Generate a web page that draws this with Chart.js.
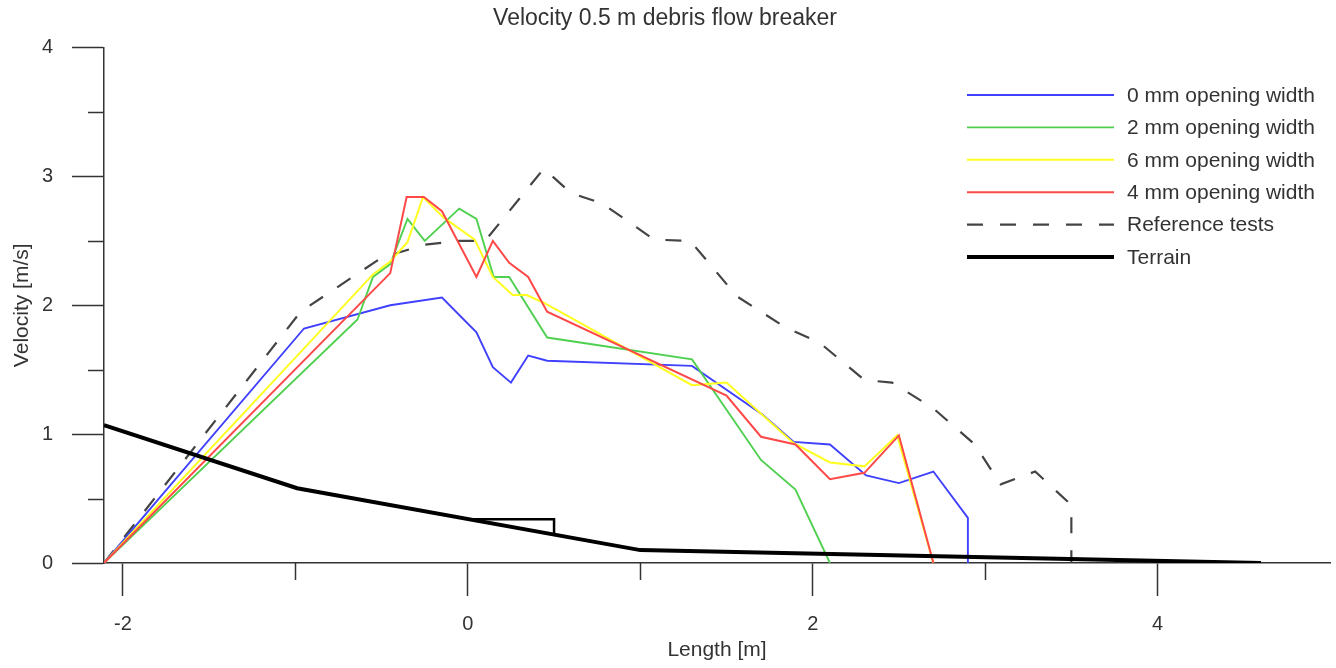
<!DOCTYPE html>
<html>
<head>
<meta charset="utf-8">
<title>Velocity 0.5 m debris flow breaker</title>
<script src="https://cdn.jsdelivr.net/npm/chart.js@4.4.1/dist/chart.umd.min.js"></script>
<style>
    html, body { margin: 0; padding: 0; background: #fff; }
    #wrap { width: 1336px; height: 668px; }
</style>
</head>
<body>
<div id="wrap"><canvas id="chart" width="1336" height="668"></canvas></div>
<script>
const FONT = '"Liberation Sans", Arial, sans-serif';
const TEXT_COLOR = '#333';
const AXIS_COLOR = '#333';

// axis ticks
const xTicks = [-2, 0, 2, 4];
const xMinorTicks = [-1, 1, 3];
const yTicks = [0, 1, 2, 3, 4];
const yMinorTicks = [0.5, 1.5, 2.5, 3.5];

// 0 mm opening width
const x0mm = [-2.11, -0.95, -0.45, -0.15, 0.05, 0.145, 0.25, 0.35, 0.46, 1.3, 1.71, 1.89, 2.1, 2.31, 2.5, 2.7, 2.9, 2.9];
const y0mm = [0, 1.82, 2.0, 2.06, 1.79, 1.52, 1.40, 1.61, 1.57, 1.53, 1.15, 0.94, 0.92, 0.68, 0.62, 0.71, 0.35, 0];

// 2 mm opening width
const x2mm = [-2.11, -0.64, -0.55, -0.45, -0.35, -0.25, -0.05, 0.05, 0.15, 0.24, 0.46, 1.3, 1.7, 1.9, 2.1];
const y2mm = [0, 1.89, 2.22, 2.32, 2.67, 2.5, 2.75, 2.67, 2.22, 2.22, 1.75, 1.58, 0.8, 0.57, 0];

// 6 mm opening width
const x6mm = [-2.11, -0.55, -0.45, -0.35, -0.26, -0.14, 0.04, 0.145, 0.26, 0.34, 0.44, 1.3, 1.5, 1.89, 2.1, 2.3, 2.49, 2.7];
const y6mm = [0, 2.24, 2.34, 2.49, 2.84, 2.68, 2.51, 2.22, 2.08, 2.08, 2.02, 1.38, 1.40, 0.93, 0.78, 0.75, 0.99, 0];

// 4 mm opening width
const x4mm = [-2.11, -0.45, -0.355, -0.255, -0.15, 0.05, 0.145, 0.24, 0.35, 0.46, 1.5, 1.7, 1.9, 2.1, 2.3, 2.5, 2.7];
const y4mm = [0, 2.25, 2.84, 2.84, 2.73, 2.22, 2.5, 2.33, 2.22, 1.95, 1.30, 0.98, 0.92, 0.65, 0.70, 0.99, 0];

// Reference tests
const xRef = [-2.11, -0.97, -0.5, -0.25, -0.05, 0.1, 0.44, 0.6, 0.78, 1.08, 1.29, 1.56, 1.84, 2.04, 2.3, 2.46, 2.7, 2.94, 3.09, 3.29, 3.5, 3.5];
const yRef = [0, 1.95, 2.37, 2.47, 2.5, 2.5, 3.06, 2.87, 2.79, 2.51, 2.5, 2.07, 1.83, 1.71, 1.42, 1.4, 1.2, 0.92, 0.61, 0.71, 0.45, 0];

// Terrain and the breaker outline sitting on it
const xTerrain = [-2.11, -0.99, 1.0, 4.6];
const yTerrain = [1.07, 0.58, 0.1, 0];
const xBreaker = [0.03, 0.5, 0.5];
const yBreaker = [0.34, 0.34, 0.22];

function pts(xs, ys) {
    return xs.map((v, i) => ({ x: v, y: ys[i] }));
}

function series(label, xs, ys, color, width, order, dash) {
    return {
        label: label,
        data: pts(xs, ys),
        borderColor: color,
        backgroundColor: color,
        borderWidth: width,
        borderDash: dash || [],
        pointRadius: 0,
        tension: 0,
        fill: false,
        order: order
    };
}

const datasets = [
    series('0 mm opening width', x0mm, y0mm, '#4040ff', 1.9, 5),
    series('2 mm opening width', x2mm, y2mm, '#50d050', 1.9, 4),
    series('6 mm opening width', x6mm, y6mm, '#ffff20', 2, 3),
    series('4 mm opening width', x4mm, y4mm, '#ff4848', 2, 2),
    series('Reference tests', xRef, yRef, '#444', 2.2, 6, [16, 17]),
    series('Terrain', xTerrain, yTerrain, '#000', 4, 0),
    series('', xBreaker, yBreaker, '#000', 2.5, 1)
];

// minor ticks and the in-plot legend
const decor = {
    id: 'decor',
    afterDraw(chart) {
        const { ctx, scales: { x, y } } = chart;
        ctx.save();
        ctx.strokeStyle = AXIS_COLOR;
        ctx.lineWidth = 1.5;
        ctx.beginPath();
        xMinorTicks.forEach(v => {
            const px = Math.round(x.getPixelForValue(v)) + 0.5;
            ctx.moveTo(px, y.bottom);
            ctx.lineTo(px, y.bottom + 17);
        });
        yMinorTicks.forEach(v => {
            const py = Math.round(y.getPixelForValue(v)) + 0.5;
            ctx.moveTo(x.left, py);
            ctx.lineTo(x.left - 16, py);
        });
        ctx.stroke();

        const items = chart.data.datasets.filter(d => d.label);
        ctx.font = '21px ' + FONT;
        ctx.textBaseline = 'middle';
        ctx.fillStyle = TEXT_COLOR;
        items.forEach((d, i) => {
            const ly = 95 + i * 32.4;
            ctx.beginPath();
            ctx.strokeStyle = d.borderColor;
            ctx.lineWidth = d.borderWidth;
            ctx.setLineDash(d.borderDash);
            ctx.moveTo(967, ly);
            ctx.lineTo(1114, ly);
            ctx.stroke();
            ctx.setLineDash([]);
            ctx.fillText(d.label, 1127, ly + 1);
        });
        ctx.restore();
    }
};

new Chart(document.getElementById('chart'), {
    type: 'line',
    data: { datasets: datasets },
    plugins: [decor],
    options: {
        responsive: false,
        animation: false,
        devicePixelRatio: 1,
        layout: { padding: { left: 0, right: 6, top: 0, bottom: 0 } },
        plugins: {
            legend: { display: false },
            tooltip: { enabled: false },
            title: {
                display: true,
                text: 'Velocity 0.5 m debris flow breaker',
                color: TEXT_COLOR,
                font: { family: FONT, size: 23, weight: 'normal' },
                padding: { top: 5, bottom: 15 }
            }
        },
        scales: {
            x: {
                type: 'linear',
                min: -2.11,
                max: 5.0,
                afterBuildTicks: s => { s.ticks = xTicks.map(v => ({ value: v })); },
                afterFit: s => { s.height = 105; },
                grid: { drawOnChartArea: false, drawTicks: true, tickLength: 33, tickColor: AXIS_COLOR, tickWidth: 1.5 },
                border: { display: true, color: AXIS_COLOR, width: 1.5 },
                ticks: { color: TEXT_COLOR, font: { family: FONT, size: 20 }, padding: 16, maxRotation: 0 },
                title: {
                    display: true,
                    text: 'Length [m]',
                    color: TEXT_COLOR,
                    font: { family: FONT, size: 21 },
                    padding: { top: 0, bottom: 5 }
                }
            },
            y: {
                type: 'linear',
                min: 0,
                max: 4,
                afterBuildTicks: s => { s.ticks = yTicks.map(v => ({ value: v })); },
                afterFit: s => { s.width = 104; },
                grid: { drawOnChartArea: false, drawTicks: true, tickLength: 32, tickColor: AXIS_COLOR, tickWidth: 1.5 },
                border: { display: true, color: AXIS_COLOR, width: 1.5 },
                ticks: { color: TEXT_COLOR, font: { family: FONT, size: 20 }, padding: 19 },
                title: {
                    display: true,
                    text: 'Velocity [m/s]',
                    color: TEXT_COLOR,
                    font: { family: FONT, size: 21 },
                    padding: { top: 10, bottom: 0 }
                }
            }
        }
    }
});
</script>
</body>
</html>
